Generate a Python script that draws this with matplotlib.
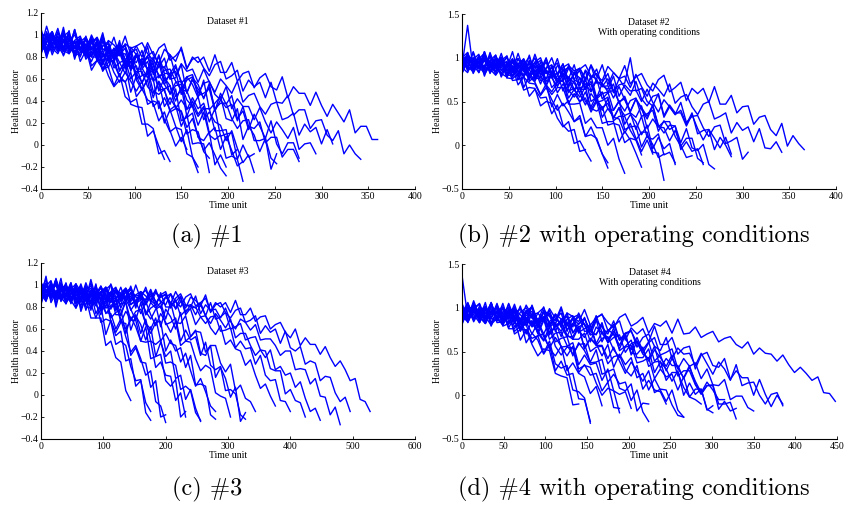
import numpy as np
import matplotlib
matplotlib.use("Agg")
import matplotlib.pyplot as plt
from matplotlib.ticker import MultipleLocator, FuncFormatter

# Health indicator per unit (x100), one sample every *_step time units
ds1_step = 6
ds1_units = [
    [97,88,101,90,82,95,89,81,92,72,77,77,63,53,59,58,37,35,34,8,13,-1,-13],
    [94,98,88,83,94,97,81,84,88,68,77,69,71,54,65,44,39,42,19,19,15,-8,-5,-15],
    [98,94,100,88,104,87,88,96,78,84,85,67,75,77,63,57,66,44,51,41,38,22,30,13,-1,7,-4],
    [95,81,92,96,86,83,95,76,86,80,80,69,79,66,57,66,58,49,58,37,40,38,23,12,16,14,-8,-11,-20],
    [102,98,92,106,88,96,100,89,82,94,96,80,83,87,67,77,69,72,56,69,49,46,51,30,33,30,10,14,12,-6,-12],
    [101,87,92,98,81,93,88,94,81,96,80,80,87,70,75,77,60,67,67,53,47,57,35,43,34,31,16,24,8,-5,2,-9,-21,-28],
    [91,93,103,88,95,99,84,94,98,87,83,96,77,88,82,83,71,83,70,61,72,64,55,65,44,50,49,36,26,33,33,13,13,14,-9,-4],
    [85,99,82,94,89,91,82,95,84,76,88,83,76,88,68,75,76,65,57,66,67,50,51,54,33,41,33,35,18,30,9,5,9,-12,-10,-13,-33],
    [103,86,95,99,89,84,95,99,84,88,94,76,87,81,86,72,87,69,69,76,58,63,64,46,54,55,41,35,44,23,30,21,18,4,13,-3,-16,-9,-25],
    [101,84,97,93,100,87,103,88,89,98,82,90,92,77,87,90,78,75,86,67,77,71,71,60,71,58,48,59,51,43,53,33,38,38,24,15,22,23,4,4,6,-12,-17],
    [88,96,100,85,96,100,89,86,99,81,92,87,88,78,90,78,69,81,76,69,80,61,68,69,58,50,59,62,45,47,51,31,41,34,37,22,35,17,15,21,2,7,7,-11,-4,-4,-15],
    [91,84,98,93,88,101,84,92,95,85,79,90,94,79,82,88,70,81,75,81,67,82,65,65,73,56,62,64,47,56,58,46,41,53,33,42,35,35,23,34,21,11,21,14,6,16,-4,1,2,-8],
    [86,98,103,89,93,100,82,94,90,96,83,99,83,84,93,77,84,87,71,81,85,73,70,82,63,74,67,69,57,69,57,48,60,54,47,58,39,45,47,35,28,37,39,23,25,29,9,19,12,16,1,14,1],
    [86,103,88,90,100,85,93,96,82,93,98,87,85,98,81,92,88,90,80,93,82,74,87,82,76,89,70,78,80,70,63,73,76,60,63,68,49,59,53,57,43,57,39,38,45,27,32,32,15,22,23,9,4,13,-8,0,-8,-13],
    [101,91,89,103,85,97,93,95,86,100,89,82,95,91,85,99,82,90,93,83,77,88,92,77,81,87,69,80,75,80,67,82,66,66,75,58,65,67,52,61,65,53,50,62,43,53,47,47,36,48,36,26,37,29,21,32,11,17,17,5,5],
    [82,101,97,88,107,83,90,98,80,81,93,68,80,74,62,74,48,63,51,59,35,40,20,32,17,3,14,-11,-25],
    [106,83,99,95,85,101,78,95,87,98,77,86,70,85,75,65,80,59,50,60,60,33,43,32,36,17,28,1,2,1,-25],
    [88,99,85,102,95,87,105,87,81,93,97,73,85,78,84,70,84,60,63,65,43,58,49,37,51,22,25,29,7,4,12,-18,-9,-20],
    [105,83,98,93,101,88,105,84,91,96,76,94,88,78,95,69,75,83,64,64,75,49,61,54,40,53,26,40,28,35,11,16,-4,8,-5,-19,-15],
    [84,93,103,87,89,104,80,95,91,80,96,73,90,81,91,71,80,63,79,69,59,75,55,47,57,58,32,43,33,38,21,33,8,10,11,-13,0,-11,-8],
    [101,79,98,91,103,84,94,80,97,89,81,100,81,75,88,91,67,81,73,80,66,81,58,64,67,46,62,55,43,59,32,38,44,24,22,33,5,17,9,-6,6,-22,-8],
    [89,108,91,85,99,103,80,94,88,96,86,102,80,87,91,71,89,82,73,90,64,71,79,60,61,73,47,61,55,42,56,31,47,37,45,24,31,14,28,17,6,22,1,-8,2,2,-12],
]

ds2_step = 6
ds2_units = [
    [90,137,86,94,97,87,80,89,91,74,75,78,56,64,54,55,36,46,23,16,18,-7,-5],
    [93,100,82,95,90,95,81,95,77,76,82,63,66,65,45,50,48,31,21,27,2,5,-7,-18],
    [100,85,92,96,81,91,94,82,78,89,69,78,71,70,57,66,52,40,48,38,27,34,10,12,8,-10,-26],
    [87,99,95,98,88,101,90,82,94,89,81,93,73,79,79,67,58,66,66,47,47,48,25,31,20,20,0,8,-16,-32],
    [104,94,87,100,96,90,103,85,93,95,85,78,88,90,74,76,80,60,70,62,65,49,61,42,39,44,23,25,23,3,8,6,-11],
    [89,83,98,104,86,92,99,78,93,87,94,78,96,76,77,86,66,73,74,54,64,66,50,44,57,32,42,32,30,14,25,8,-7,6,-10],
    [101,87,107,89,91,103,84,92,96,78,90,94,80,76,91,68,81,73,74,60,74,59,46,59,50,40,53,28,33,33,17,6,15,15,-8,-9,-40],
    [97,103,91,89,105,84,98,92,95,83,99,86,75,91,84,76,91,68,76,78,64,55,67,70,49,51,55,31,43,34,37,18,33,9,7,13,-11,-8,-20],
    [82,99,94,88,104,84,93,97,86,79,93,98,79,84,91,69,83,76,82,66,84,64,64,73,53,59,61,40,50,53,37,32,45,19,30,21,20,5,17,0,-14,-12],
    [100,106,89,95,103,83,98,93,100,86,105,86,89,100,80,88,92,73,85,89,75,71,85,62,74,67,68,54,67,52,39,53,43,33,46,21,27,27,10,-1,8,8,-15,-20],
    [105,87,90,102,83,92,97,79,91,97,84,81,97,75,88,82,85,72,87,73,62,77,70,61,76,53,60,63,49,39,51,54,33,36,40,16,28,18,22,3,19,-3,-6,1,-22,-27],
    [87,104,92,83,100,95,88,105,85,95,99,88,81,95,100,82,88,94,73,88,82,88,73,91,71,72,82,62,69,71,100,62,65,50,45,59,34,46,37,37,22,35,19,6,18,8,-3,9,-10],
    [85,95,100,89,83,97,103,86,91,99,78,94,88,95,80,99,80,82,93,73,81,85,66,77,82,68,64,79,56,69,62,63,50,64,49,38,52,44,35,49,26,33,34,20,10,21,23,2,5,9,-16,-8],
    [101,90,84,99,105,88,94,101,81,97,92,99,85,104,86,88,100,81,89,93,75,87,92,79,76,92,69,83,76,79,66,81,67,56,71,64,56,70,48,55,58,44,35,47,50,30,33,37,14,26,17,21,4,19,-3,-4,4,-8],
    [82,98,93,101,86,106,88,90,102,84,92,97,79,92,97,85,83,99,77,91,85,88,76,92,79,74,90,83,76,91,70,78,82,69,62,75,80,61,66,72,51,65,59,65,49,67,47,47,57,37,44,45,24,32,34,18,11,25,-1,11,2,-5],
    [83,102,97,89,107,83,90,98,80,80,92,66,79,72,58,70,44,58,45,51,27,31,10,21,6,-10,-20],
    [98,95,85,102,79,97,89,100,81,91,75,91,82,73,89,69,61,72,74,48,59,50,54,38,50,25,27,27,4,16,6,-9,-25],
    [85,103,96,89,107,90,84,97,102,78,92,86,93,80,95,73,79,82,62,78,71,60,76,50,55,61,41,40,51,24,35,27,12,23,-4,9,-4,2,-22],
    [96,91,100,88,105,85,92,98,79,98,93,84,103,79,86,95,78,79,93,68,82,77,64,79,54,71,61,70,48,56,38,53,41,30,45,23,14,23,22,-5,4,-7,-4,-22],
    [88,91,106,83,98,95,84,100,77,95,87,97,77,86,70,86,77,67,83,63,55,66,67,41,52,43,48,31,43,18,21,22,-2,11,1,-14,-10],
    [89,106,86,94,100,82,100,96,88,107,83,92,101,84,86,100,77,91,87,76,92,68,86,77,87,67,76,60,76,66,57,73,53,45,56,58,32,44,35,40,24,37,13,17,18,-5,9,0,-13],
]

ds3_step = 8
ds3_units = [
    [95,90,103,86,94,97,86,79,88,89,70,70,70,45,49,34,30,4,-5],
    [89,94,100,83,95,91,96,83,98,80,79,86,66,69,67,46,49,45,26,13,14,-16,-23],
    [92,102,87,94,98,83,93,97,86,82,94,74,83,75,74,60,69,53,39,45,33,18,22,-6,-10,-25],
    [103,86,97,93,96,86,99,89,81,93,88,81,93,74,80,81,69,60,68,68,49,48,49,25,30,18,17,-5,2,-20],
    [92,85,99,94,89,102,85,93,96,86,80,91,94,79,81,86,66,76,69,73,56,69,49,46,50,29,30,27,5,8,4,-16,-23],
    [87,99,104,89,94,101,83,96,91,97,84,100,84,85,93,77,83,84,68,76,78,65,60,70,49,56,47,45,30,38,22,8,15,3,-10,-15],
    [94,101,89,105,90,92,102,86,94,98,83,93,98,87,84,97,79,89,83,85,74,85,73,63,74,66,57,67,45,49,48,33,22,27,24,2,-1,-3,-20],
    [84,95,100,89,87,101,84,95,91,94,84,98,87,80,93,88,82,95,77,84,86,76,69,78,81,64,66,70,49,59,50,53,36,48,27,23,26,4,5,1,-18,-22],
    [98,94,97,88,101,91,84,98,94,88,102,85,93,97,87,82,93,97,82,86,92,73,84,79,84,69,84,66,65,72,53,58,57,39,45,45,29,21,28,4,9,-3,-6,-15],
    [96,89,100,92,87,97,94,90,101,87,95,97,90,86,94,98,87,90,96,81,90,86,92,81,93,80,80,86,72,77,78,64,71,72,61,55,63,46,50,42,40,27,32,18,6,10,-1,-10],
    [96,93,99,89,102,90,91,99,87,94,97,86,94,98,90,87,98,85,93,90,91,83,94,85,79,89,84,79,89,73,79,80,71,65,71,72,58,59,61,43,49,42,43,28,36,18,13,14,-5,-6,-15],
    [96,99,92,88,97,100,89,93,99,85,95,92,97,87,101,89,89,97,85,91,94,82,90,94,85,82,92,78,85,81,82,73,82,72,65,74,68,61,69,52,56,56,45,36,41,40,24,22,22,1,5,-5,-7,-20],
    [98,87,96,100,92,89,100,87,96,93,95,87,99,90,85,96,92,88,99,84,92,95,86,82,91,94,82,85,90,75,82,79,84,72,84,69,71,75,60,62,65,50,52,53,41,34,41,23,26,18,20,7,12,-3,-15,-12,-23],
    [98,95,91,102,88,96,98,91,87,96,99,89,93,98,84,94,91,97,86,100,87,87,96,84,89,92,79,88,92,82,80,90,74,82,77,78,70,79,67,60,69,66,59,64,50,51,51,45,36,40,40,23,24,23,10,15,-1,-2,-18,-11,-27],
    [101,90,94,100,86,96,92,98,88,102,90,91,99,87,93,96,85,94,97,89,87,98,84,93,89,91,83,94,85,79,89,86,81,91,75,82,84,75,70,77,79,66,68,72,56,63,57,60,47,58,43,40,44,28,31,29,13,17,16,2,-6,-2,-15],
    [91,93,100,89,95,97,87,94,98,91,89,98,86,95,92,93,87,97,89,84,94,90,86,96,84,89,92,85,80,89,92,81,84,88,76,84,80,84,75,86,73,73,79,67,71,72,60,64,66,57,52,60,45,52,46,46,37,44,34,26,31,23,13,15,-4,-6,-15],
    [89,108,84,93,102,86,87,101,76,89,83,70,82,55,68,54,58,31,33,8,13,-7,-15],
    [96,86,103,80,99,91,102,83,93,77,93,83,73,88,67,57,66,65,36,43,30,29,7,13,-20,-18],
    [102,95,87,106,89,83,96,101,78,91,85,92,78,93,70,75,78,56,71,62,49,62,33,35,37,13,8,14,-20,-15],
    [92,101,89,105,85,92,98,79,97,92,83,101,76,84,91,73,73,85,59,72,64,50,62,35,48,35,40,15,18,-4,5,-12,-24],
    [95,105,89,91,106,83,98,95,84,100,77,95,87,98,78,88,72,87,78,68,84,64,56,66,67,40,50,40,43,25,36,9,10,8,-18,-22],
    [82,101,94,105,87,98,84,101,94,87,105,88,82,96,100,77,91,85,93,79,94,73,79,82,62,78,71,60,75,49,53,59,38,36,45,16,25,15,-2,7,-24,-16],
]

ds4_step = 7
ds4_units = [
    [137,89,105,92,82,97,90,80,94,70,75,75,58,45,53,51,25,22,20,-11,-10],
    [86,96,100,89,82,95,99,79,82,87,63,75,65,68,48,62,36,31,34,6,4,-3,-32],
    [81,97,92,99,84,103,83,84,94,73,79,81,60,68,70,53,45,56,28,37,25,21,2,10,-12],
    [96,101,84,96,101,88,85,101,77,90,83,84,70,83,67,54,66,56,45,56,30,34,32,14,0,8,5,-20],
    [93,97,86,102,90,80,96,89,82,97,75,83,85,71,62,73,76,55,56,60,35,46,35,37,17,30,5,1,4,-15],
    [90,88,105,83,98,92,95,83,98,85,74,89,82,73,87,64,71,72,57,47,58,59,37,38,41,15,24,13,15,-6,6,-19,-30],
    [95,89,106,86,95,99,88,81,95,100,81,86,92,70,85,78,83,67,84,64,64,71,50,55,56,36,44,46,29,22,34,7,17,6,4,-10],
    [89,95,103,83,98,93,100,85,104,85,87,97,78,85,88,69,80,83,69,64,78,54,65,57,57,42,55,39,25,38,28,16,28,3,7,6,-11,-23,-25],
    [94,106,88,97,101,83,96,101,89,86,102,79,93,87,89,77,92,78,67,82,74,66,80,57,65,67,52,43,55,57,37,39,43,19,30,21,24,6,21,-2,-5,-10],
    [105,84,99,94,98,87,103,91,81,98,92,85,102,80,89,93,81,73,87,91,72,76,81,59,72,65,70,53,69,48,47,55,33,38,39,17,26,26,9,-2,7,7,-16,-20],
    [93,84,101,96,90,106,86,95,100,88,81,96,101,82,87,94,73,87,81,87,71,89,69,70,80,60,66,69,49,59,62,47,42,56,31,42,34,34,19,32,16,3,15,6,-5,-5],
    [90,84,99,105,88,94,101,81,97,91,99,84,103,84,86,97,78,86,90,71,82,87,73,69,83,60,73,65,66,52,66,51,39,52,43,33,46,22,28,28,12,1,11,12,-10,-10,-8,-27],
    [102,88,108,90,93,105,86,95,100,82,95,100,88,85,101,79,93,87,90,78,94,80,69,85,78,70,85,63,70,73,60,48,60,66,46,49,53,30,42,33,37,19,30,12,11,18,-5,-1,-1,-14,-18],
    [84,97,103,91,89,106,85,99,94,98,86,103,91,81,97,92,85,101,79,89,92,81,74,88,93,74,79,85,63,77,70,76,61,79,58,58,66,47,54,56,30,46,49,34,32,42,18,28,20,20,0,18,1,-13,0,-10],
    [87,104,92,83,100,95,88,105,84,94,99,87,80,94,100,82,87,94,73,88,81,88,73,91,72,73,81,63,71,74,55,66,70,56,51,66,42,54,47,48,34,48,36,24,38,30,17,35,11,14,15,0,-10,1,3,-12],
    [102,87,95,98,84,95,100,90,87,101,84,96,92,94,85,99,88,81,94,90,84,98,80,89,92,83,77,89,93,79,83,89,71,82,79,85,71,87,70,71,78,66,70,73,61,65,67,58,54,61,47,54,48,47,39,46,35,26,32,25,17,21,3,2,-7],
    [82,101,96,88,106,81,88,95,76,76,87,60,71,63,47,58,28,39,23,25,-4,-5,-30],
    [84,100,97,86,102,79,97,89,98,78,87,70,85,74,63,78,56,46,55,54,26,35,23,25,5,15,-14,-15],
    [98,84,102,94,87,105,87,81,93,97,73,86,79,85,70,84,61,65,67,45,60,51,38,52,24,27,30,8,5,13,-18,-9,-10],
    [105,83,98,93,101,89,105,84,91,96,77,94,89,79,96,71,78,85,67,67,79,53,65,59,45,58,32,47,35,43,20,25,6,19,6,-7,6,-17,-25],
    [93,105,87,98,84,102,94,87,105,88,82,95,100,77,90,84,92,78,94,72,78,82,61,78,71,61,77,51,56,63,43,43,53,26,38,30,16,28,0,14,1,7,-17,-12],
    [90,85,99,104,82,97,91,100,88,104,84,91,96,77,95,90,81,99,75,82,90,73,74,87,61,75,70,57,71,46,62,52,61,39,46,28,42,31,20,34,13,2,11,11,-16,-7,-18,-15],
]

panel_titles = ["Dataset #1", "Dataset #2\nWith operating conditions",
                "Dataset #3", "Dataset #4\nWith operating conditions"]
captions = ["(a) #1", "(b) #2 with operating conditions",
            "(c) #3", "(d) #4 with operating conditions"]
x_max = [400, 400, 600, 450]
x_tick = [50, 50, 100, 50]
y_lims = [(-0.4, 1.2), (-0.5, 1.5), (-0.4, 1.2), (-0.5, 1.5)]
y_tick = [0.2, 0.5, 0.2, 0.5]

datasets = [(ds1_units, ds1_step), (ds2_units, ds2_step),
            (ds3_units, ds3_step), (ds4_units, ds4_step)]

W, H = 846, 508
fig = plt.figure(figsize=(W / 100, H / 100), dpi=100)

# axes boxes in pixels: left, top, right, bottom
boxes = [(41, 13, 415, 189), (462, 14, 836, 189),
         (41, 263, 415, 439), (462, 264, 837, 439)]
caption_pos = [(207, 236), (634, 236), (207, 489), (634, 489)]

font = "Liberation Serif"
fmt = FuncFormatter(lambda v, p: ("%g" % round(v, 3)).replace("-", "\u2212"))

for k in range(4):
    l, t, r, b = boxes[k]
    ax = fig.add_axes([l / W, 1 - b / H, (r - l) / W, (b - t) / H])
    units, step = datasets[k]
    for u in units:
        hi = np.array(u) / 100.0
        tt = np.arange(len(hi)) * step
        ax.plot(tt, hi, color="#0000ff", lw=1.0)

    ax.set_xlim(0, x_max[k])
    ax.set_ylim(*y_lims[k])
    ax.xaxis.set_major_locator(MultipleLocator(x_tick[k]))
    ax.yaxis.set_major_locator(MultipleLocator(y_tick[k]))
    ax.yaxis.set_major_formatter(fmt)
    for s in ["top", "right"]:
        ax.spines[s].set_visible(False)
    for s in ["left", "bottom"]:
        ax.spines[s].set_linewidth(0.8)
    ax.tick_params(direction="in", length=2.5, width=0.6, labelsize=7, pad=2)
    for lab in ax.get_xticklabels() + ax.get_yticklabels():
        lab.set_fontfamily(font)

    ax.set_xlabel("Time unit", fontsize=7, family=font, labelpad=0)
    ax.set_ylabel("Health indicator", fontsize=7, family=font)
    ax.yaxis.set_label_coords(-0.053, 0.5)
    ax.text(0.5, 0.975, panel_titles[k], transform=ax.transAxes, ha="center",
            va="top", fontsize=7, family=font, linespacing=1.15)

    cx, cy = caption_pos[k]
    fig.text(cx / W, 1 - cy / H, captions[k], ha="center", va="center",
             fontsize=17.5, family="cmr10")

fig.savefig("out.png", dpi=100)
